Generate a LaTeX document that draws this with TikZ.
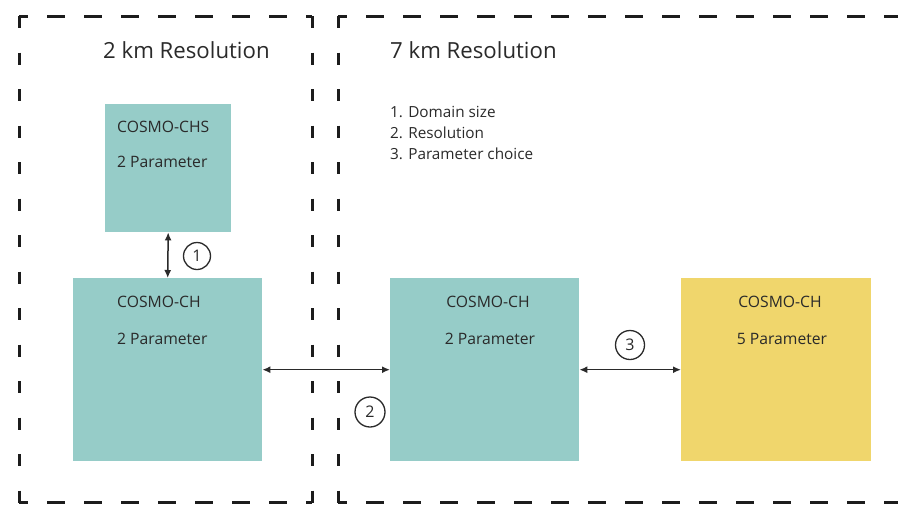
\documentclass[tikz,border=0pt]{standalone}
\usepackage{fontspec}
\setmainfont{Open Sans}
\usetikzlibrary{arrows.meta}
\definecolor{boxteal}{HTML}{96CCC8}
\definecolor{boxyellow}{HTML}{F0D66C}
\definecolor{txt}{HTML}{2A2A2A}
\definecolor{dashc}{HTML}{1C1C1C}
\begin{document}
\begin{tikzpicture}[x=1pt,y=-1pt,
  hline/.style={draw=dashc,line width=3pt,dash pattern=on 18pt off 19pt,dash phase=9pt},
  vline/.style={draw=dashc,line width=3pt,dash pattern=on 12pt off 24.5pt},
  mbox/.style={rectangle,draw=none,inner sep=0pt,anchor=north west},
  title/.style={text=txt,font=\fontsize{22.2}{26}\selectfont,inner sep=0pt},
  lbl/.style={text=txt,font=\fontsize{15.7}{18}\selectfont,inner sep=0pt},
  lst/.style={text=txt,font=\fontsize{15.3}{18}\selectfont,inner sep=0pt,anchor=west},
  circ/.style={circle,draw=txt,line width=1.3pt,text=txt,inner sep=0pt,minimum size=27pt,font=\fontsize{16}{18}\selectfont},
  arr/.style={draw=txt,line width=1.5pt,{Latex[length=8pt,width=7pt]}-{Latex[length=8pt,width=7pt]}}
]
\useasboundingbox[fill=white] (0,0) rectangle (898,504);
% frames
\coordinate (lt) at (19,16);
\coordinate (lr) at (312,16);
\coordinate (rl) at (338,16);
\coordinate (rr) at (910,16);
\coordinate (lb) at (19,502.5);
\coordinate (lrb) at (312,502.5);
\coordinate (rlb) at (338,502.5);
\coordinate (rrb) at (910,502.5);
\draw[hline] (lt) -- (lr);
\draw[hline] (rl) -- (rr);
\draw[hline] (lb) -- (lrb);
\draw[hline] (rlb) -- (rrb);
\draw[vline] (lt) -- (lb);
\draw[vline] (lr) -- (lrb);
\draw[vline] (rl) -- (rlb);
% titles
\node[title,anchor=west] (t2) at (103,50) {2 km Resolution};
\node[title,anchor=west] (t7) at (390,50) {7 km Resolution};
\node[lst] (l1) at (390,112) {1. Domain size};
\node[lst] (l2) at (390,133) {2. Resolution};
\node[lst] (l3) at (390,154) {3. Parameter choice};
% boxes
\node[mbox,fill=boxteal,minimum width=126pt,minimum height=128pt] (chs) at (105,104) {};
\node[mbox,fill=boxteal,minimum width=189pt,minimum height=183pt] (ch1) at (73,278) {};
\node[mbox,fill=boxteal,minimum width=189pt,minimum height=183pt] (ch2) at (390,278) {};
\node[mbox,fill=boxyellow,minimum width=190pt,minimum height=183pt] (ch5) at (681,278) {};
% box texts
\node[lbl,anchor=west] (chsa) at (117,127) {COSMO-CHS};
\node[lbl,anchor=west] (chsb) at (117,162) {2 Parameter};
\node[lbl,anchor=west] (ch1a) at (117,302) {COSMO-CH};
\node[lbl,anchor=west] (ch1b) at (117,339) {2 Parameter};
\node[lbl] (ch2a) at (488,302) {COSMO-CH};
\node[lbl] (ch2b) at (490,339) {2 Parameter};
\node[lbl] (ch5a) at (780,302) {COSMO-CH};
\node[lbl] (ch5b) at (782,339) {5 Parameter};
% connectors
\draw[arr] (chs.south) -- (ch1.north);
\draw[arr] (ch1.east) -- (ch2.west);
\draw[arr] (ch2.east) -- (ch5.west);
\node[circ] (c1) at (197,256) {1};
\node[circ,minimum size=30pt] (c2) at (370,412) {2};
\node[circ,minimum size=29pt] (c3) at (630,345) {3};
\end{tikzpicture}
\end{document}
